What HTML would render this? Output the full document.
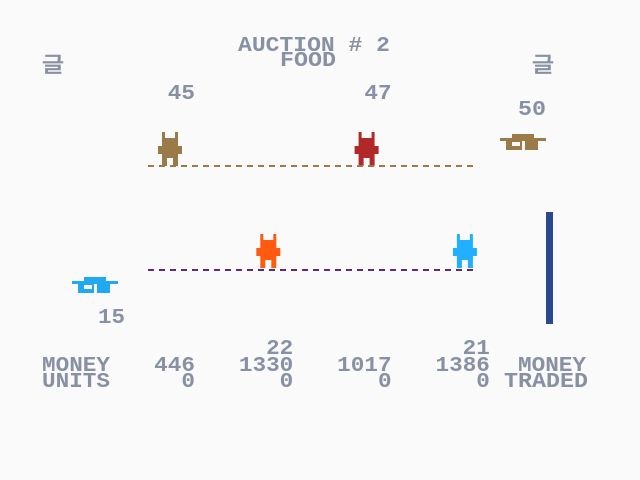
<!DOCTYPE html>
<html><head><meta charset="utf-8"><style>
html,body{margin:0;padding:0;background:#fafafa;}
svg{display:block;}
text{font-family:"Liberation Mono",monospace;font-weight:bold;fill:#8890a4;font-size:21px;}
</style></head><body>
<svg width="640" height="480" viewBox="0 0 640 480">
<rect width="640" height="480" fill="#fafafa"/>
<text x="238" y="51" textLength="152" lengthAdjust="spacingAndGlyphs">AUCTION # 2</text>
<text x="280" y="66" textLength="56" lengthAdjust="spacingAndGlyphs" fill="#8898c8">FOOD</text>
<text x="42" y="72" textLength="22" lengthAdjust="spacingAndGlyphs">글</text>
<text x="532" y="72" textLength="22" lengthAdjust="spacingAndGlyphs">글</text>
<g id="dyn"></g>
<line x1="148" y1="166" x2="478" y2="166" stroke="#9a7a48" stroke-width="2" stroke-dasharray="6,5"/>
<line x1="148" y1="270" x2="478" y2="270" stroke="#602870" stroke-width="2" stroke-dasharray="6,5"/>
<g>
<rect x="512" y="134" width="22" height="4" fill="#9a7a48"/><rect x="500" y="138" width="46" height="3" fill="#9a7a48"/><rect x="506" y="141" width="32" height="9" fill="#9a7a48"/><rect x="512" y="142" width="8" height="4" fill="#fafafa"/><rect x="522" y="141" width="3" height="9" fill="#fafafa"/></g>
<g>
<rect x="84" y="277" width="22" height="4" fill="#20a8f0"/><rect x="72" y="281" width="46" height="3" fill="#20a8f0"/><rect x="78" y="284" width="32" height="9" fill="#20a8f0"/><rect x="84" y="285" width="8" height="4" fill="#fafafa"/><rect x="94" y="284" width="3" height="9" fill="#fafafa"/></g>
<rect x="546" y="212" width="7" height="112" fill="#284890"/>
<text x="518" y="115" textLength="28" lengthAdjust="spacingAndGlyphs">50</text>
<text x="98" y="323" textLength="27" lengthAdjust="spacingAndGlyphs">15</text>
<text x="42" y="371" textLength="68" lengthAdjust="spacingAndGlyphs">MONEY</text>
<text x="42" y="387" textLength="68" lengthAdjust="spacingAndGlyphs">UNITS</text>
<text x="518" y="371" textLength="68" lengthAdjust="spacingAndGlyphs">MONEY</text>
<text x="504" y="387" textLength="84" lengthAdjust="spacingAndGlyphs">TRADED</text>
</svg>
<script>
const players=['p1','p2','p3','p4'];
const money=[446,1330,1017,1386];
const units=[0,0,0,0];
const bids=[45,null,47,null];
const asks=[null,22,null,21];
const colors=['#9a7a48','#ff5a10','#b02828','#20b0ff'];
const sellers=[true,false,true,false];
const ns='http://www.w3.org/2000/svg';
const g=document.getElementById('dyn');
function colRight(i){return 195+i*98.3;}
function mk(tag,attrs,txt){const e=document.createElementNS(ns,tag);for(const k in attrs)e.setAttribute(k,attrs[k]);if(txt!==undefined)e.textContent=txt;g.appendChild(e);return e;}
const cw=13.6;
players.forEach((p,i)=>{
  const r=colRight(i);
  let s=String(money[i]);
  let t=mk('text',{x:r-s.length*cw,y:371,textLength:s.length*cw,lengthAdjust:'spacingAndGlyphs'},s);
  
  
  s=String(units[i]);
  t=mk('text',{x:r-s.length*cw,y:387,textLength:s.length*cw,lengthAdjust:'spacingAndGlyphs'},s);
  
  
  const v=sellers[i]?bids[i]:asks[i];
  s=String(v);
  t=mk('text',{x:r-s.length*cw,y:sellers[i]?99:354,textLength:s.length*cw,lengthAdjust:'spacingAndGlyphs'},s);
  
  
  const cx=r-25, base=sellers[i]?166:268;
  const sp=mk('g',{fill:colors[i]});
  
  
  const rects=[[-8,-34,3,6],[5,-34,3,6],[-8,-28,16,8],[-12,-20,24,8],[-8,-12,16,4],[-8,-8,5,8],[3,-8,5,8]];
  rects.forEach(q=>{const e=document.createElementNS(ns,'rect');e.setAttribute('x',cx+q[0]);e.setAttribute('y',base+q[1]);e.setAttribute('width',q[2]);e.setAttribute('height',q[3]);sp.appendChild(e);});
});
</script>
</body></html>
